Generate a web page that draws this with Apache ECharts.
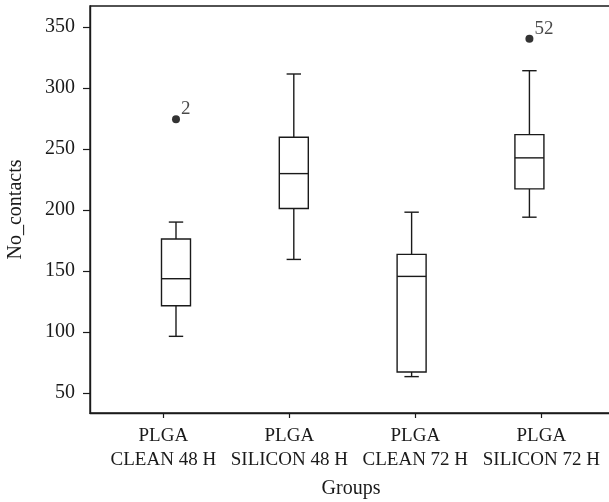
<!DOCTYPE html>
<html><head><meta charset="utf-8">
<script src="https://cdn.jsdelivr.net/npm/echarts@6/dist/echarts.min.js"></script>
<style>html,body{margin:0;padding:0;background:#fff}#c{width:609px;height:502px}</style>
</head><body><div id="c"></div>
<script>
// ---- data ----
const groups = ['PLGA\nCLEAN 48 H', 'PLGA\nSILICON 48 H', 'PLGA\nCLEAN 72 H', 'PLGA\nSILICON 72 H'];
const boxMin    = [96.4, 159.4, 63.4, 194.0];
const boxQ1     = [121.5, 201.1, 67.2, 217.2];
const boxMedian = [143.6, 229.7, 145.5, 242.6];
const boxQ3     = [176.1, 259.5, 163.5, 261.6];
const boxMax    = [190.0, 311.3, 198.1, 314.0];
const outlierGroup = [1, 4];
const outlierValue = [274.2, 340.2];
const outlierId = ['2', '52'];
const yTicks = [50, 100, 150, 200, 250, 300, 350];
const groupPositions = [1, 2, 3, 4];

// ---- build ----
const FONT = 'Liberation Serif';
const INK = '#1a1a1a';
const boxData = groups.map((g, i) => [groupPositions[i], boxMin[i], boxQ1[i], boxMedian[i], boxQ3[i], boxMax[i]]);
const outData = outlierGroup.map((g, i) => ({ value: [g, outlierValue[i]], name: outlierId[i] }));

const chart = echarts.init(document.getElementById('c'), null, { renderer: 'canvas' });
const lineStyle = { stroke: INK, lineWidth: 1.4, fill: null };

chart.setOption({
  animation: false,
  backgroundColor: '#fff',
  grid: {
    left: 90, right: -3, top: 6, bottom: 89, containLabel: false, outerBoundsMode: 'none',
    show: true, borderColor: INK, borderWidth: 1.4, backgroundColor: 'transparent'
  },
  xAxis: [
    { type: 'value', min: 0.27, max: 4.701, show: false },
    {
      type: 'value', min: 0.418, max: 4.561, position: 'bottom',
      name: 'Groups', nameLocation: 'middle', nameGap: 66,
      nameTextStyle: { fontFamily: FONT, fontSize: 20, color: INK },
      axisLine: { show: true, lineStyle: { color: INK, width: 1.4 } },
      axisTick: { show: true, length: 5, customValues: groupPositions, lineStyle: { color: INK, width: 1.2 } },
      axisLabel: {
        customValues: groupPositions, margin: 11, fontFamily: FONT, fontSize: 19, color: INK, lineHeight: 24,
        formatter: v => groups[Math.round(v) - 1] || ''
      },
      splitLine: { show: false }
    }
  ],
  yAxis: {
    type: 'value', min: 33.6, max: 367,
    name: 'No_contacts', nameLocation: 'middle', nameGap: 64, nameRotate: 90,
    nameTextStyle: { fontFamily: FONT, fontSize: 20, color: INK },
    axisLine: { show: true, lineStyle: { color: INK, width: 1.4 } },
    axisTick: { show: true, length: 7, customValues: yTicks, lineStyle: { color: INK, width: 1.2 } },
    axisLabel: { customValues: yTicks, margin: 15, fontFamily: FONT, fontSize: 20, color: INK },
    splitLine: { show: false }
  },
  series: [
    {
      type: 'custom', xAxisIndex: 0, yAxisIndex: 0,
      data: boxData,
      encode: { x: 0, y: [1, 2, 3, 4, 5] },
      renderItem: function (params, api) {
        const x = api.value(0);
        const pMin = api.coord([x, api.value(1)]);
        const pQ1 = api.coord([x, api.value(2)]);
        const pMed = api.coord([x, api.value(3)]);
        const pQ3 = api.coord([x, api.value(4)]);
        const pMax = api.coord([x, api.value(5)]);
        const hw = 14.5, cw = 7.2, cx = pMed[0];
        const ln = (x1, y1, x2, y2) => ({ type: 'line', shape: { x1, y1, x2, y2 }, style: lineStyle });
        return {
          type: 'group',
          children: [
            ln(cx, pMax[1], cx, pQ3[1]),
            ln(cx - cw, pMax[1], cx + cw, pMax[1]),
            ln(cx, pMin[1], cx, pQ1[1]),
            ln(cx - cw, pMin[1], cx + cw, pMin[1]),
            { type: 'rect', shape: { x: cx - hw, y: pQ3[1], width: hw * 2, height: pQ1[1] - pQ3[1] }, style: { stroke: INK, lineWidth: 1.4, fill: '#fff' } },
            ln(cx - hw, pMed[1], cx + hw, pMed[1])
          ]
        };
      }
    },
    {
      type: 'scatter', xAxisIndex: 0, yAxisIndex: 0,
      data: outData, symbol: 'circle', symbolSize: 8,
      itemStyle: { color: '#000' },
      label: {
        show: true, position: 'right', distance: 1, offset: [0, -10],
        formatter: p => p.name, fontFamily: FONT, fontSize: 19, color: INK
      }
    }
  ]
});
</script>
</body></html>
